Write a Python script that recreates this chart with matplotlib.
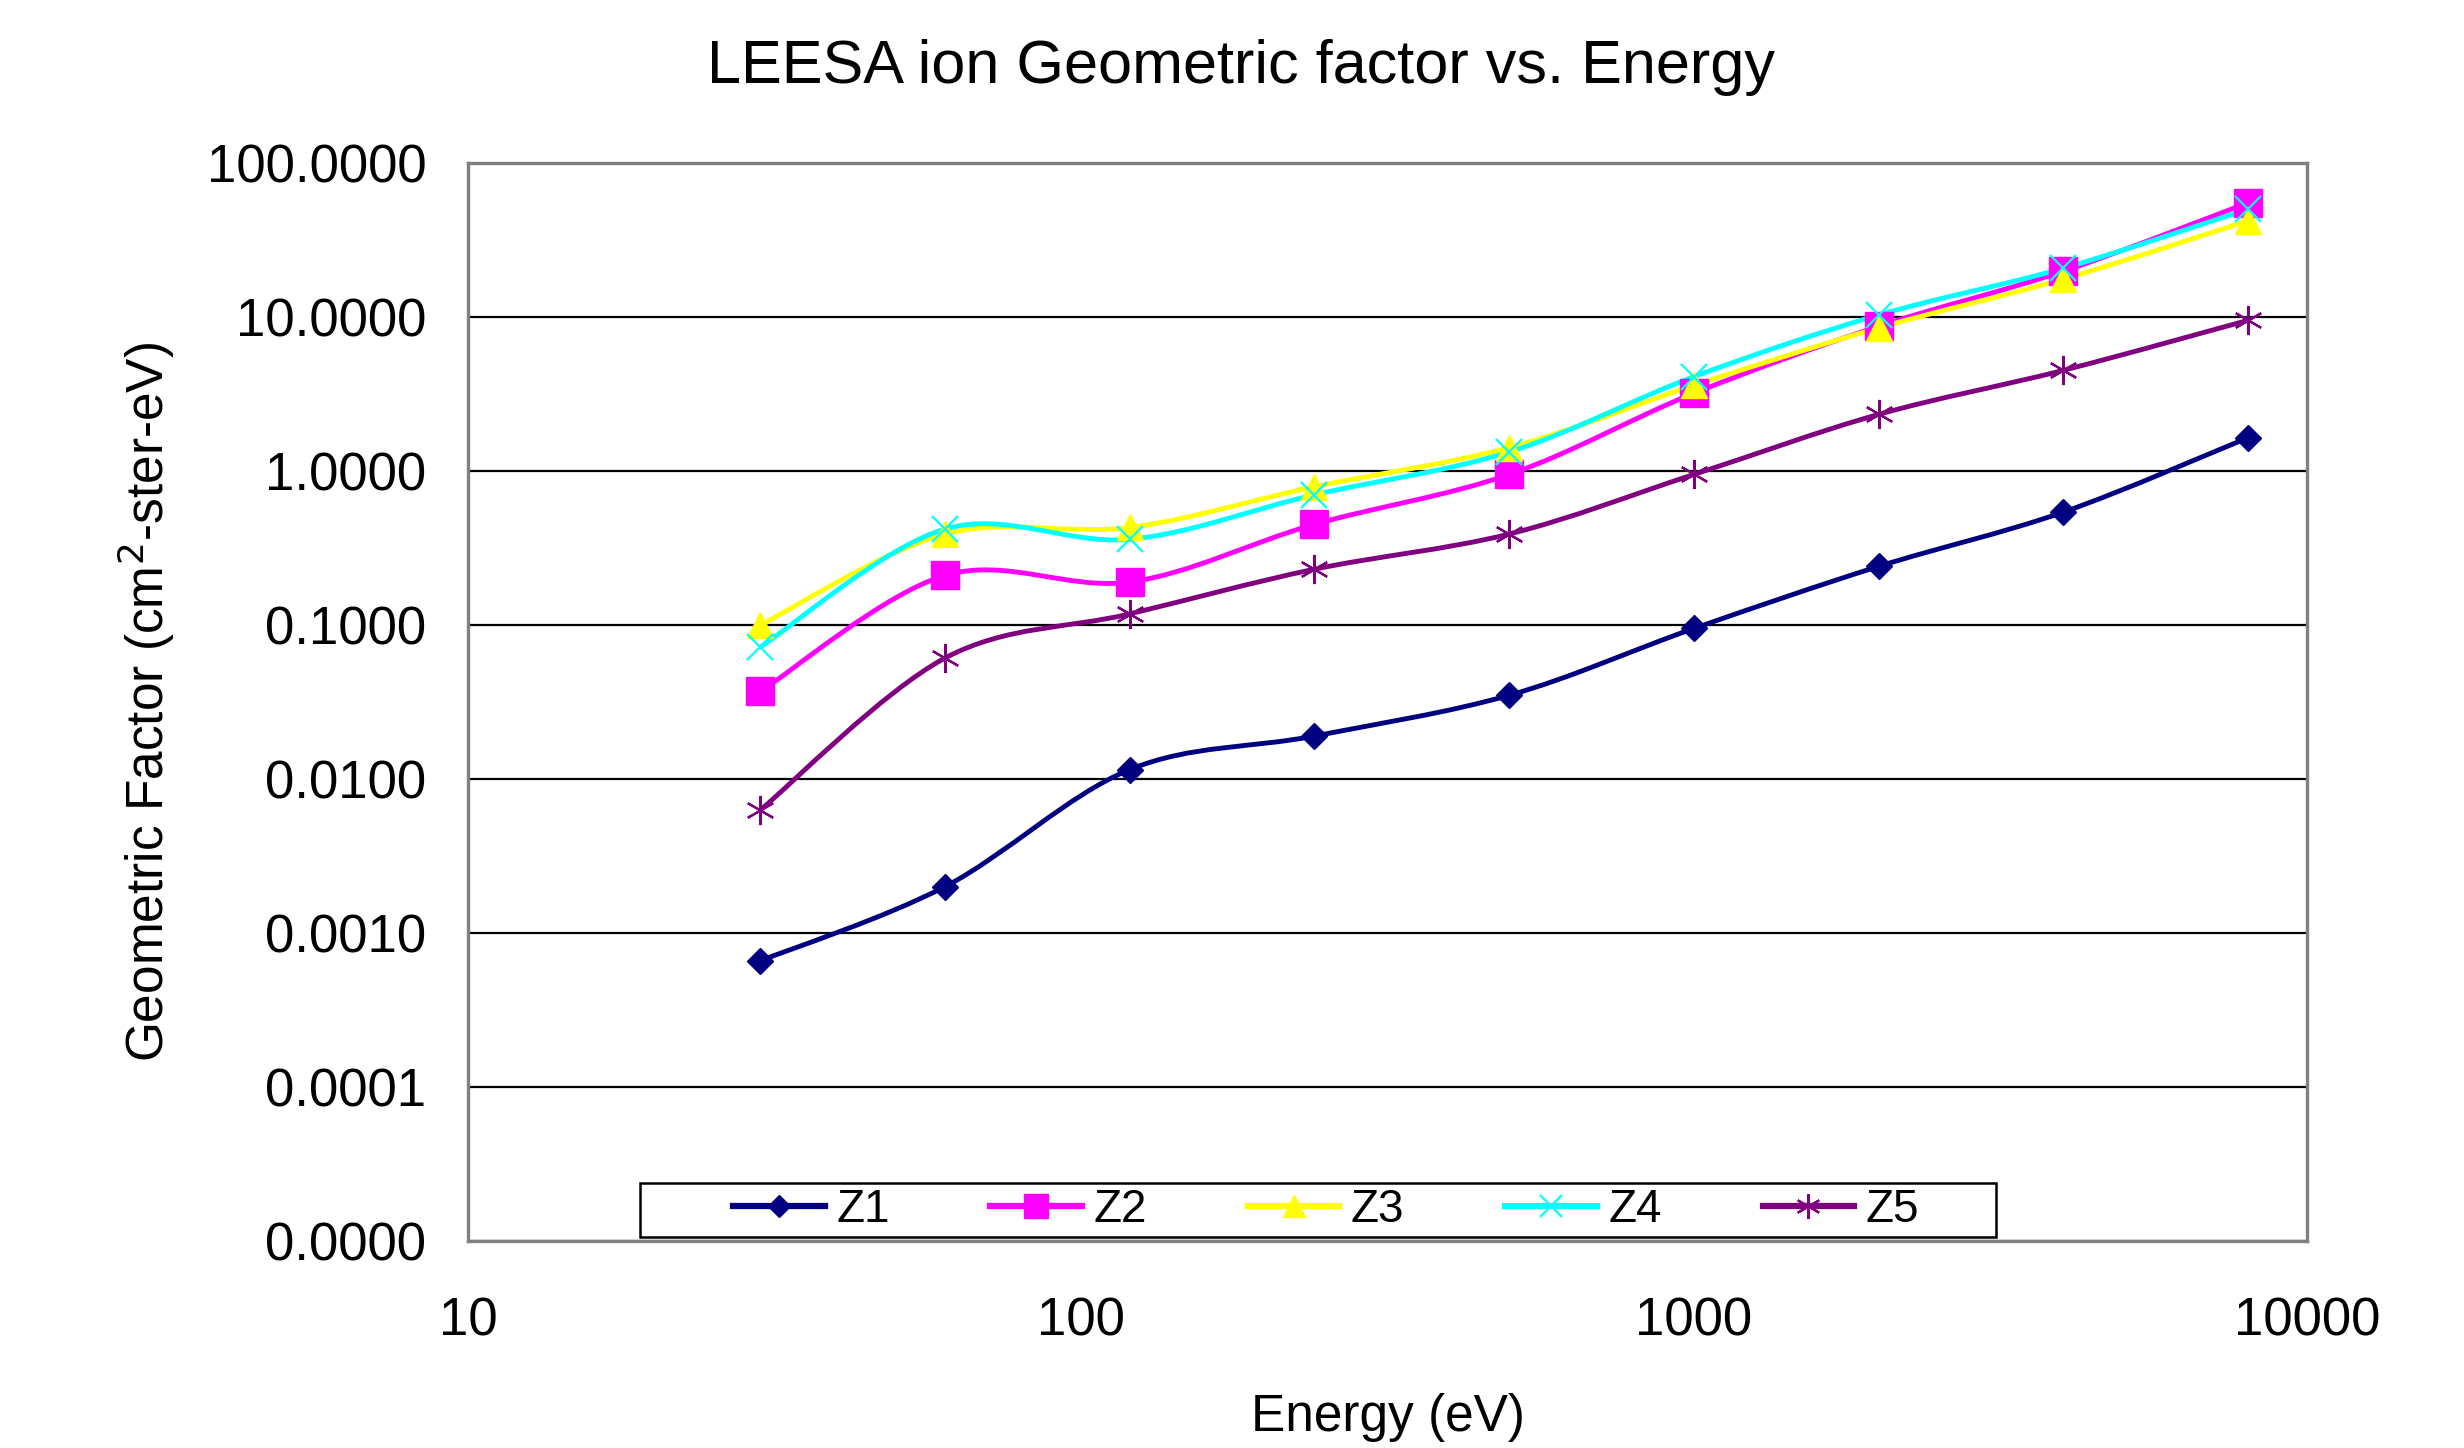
import numpy as np
import matplotlib
matplotlib.use("Agg")
import matplotlib.pyplot as plt
from matplotlib.path import Path
from matplotlib.patches import PathPatch, Rectangle
from matplotlib.lines import Line2D
from matplotlib.ticker import FixedLocator, FuncFormatter, NullLocator

plt.rcParams['font.family'] = ['Liberation Sans', 'DejaVu Sans']

energy = [30, 60, 120, 240, 500, 1000, 2000, 4000, 8000]
z1 = [0.00066, 0.0020, 0.0115, 0.019, 0.035, 0.095, 0.24, 0.54, 1.64]
z2 = [0.037, 0.21, 0.19, 0.45, 0.95, 3.2, 8.7, 19.8, 55.0]
z3 = [0.10, 0.39, 0.43, 0.79, 1.42, 3.6, 8.5, 17.6, 42.0]
z4 = [0.072, 0.42, 0.36, 0.70, 1.33, 4.1, 10.3, 20.7, 50.0]
z5 = [0.0063, 0.061, 0.118, 0.23, 0.39, 0.95, 2.33, 4.5, 9.5]
series_names = ['Z1', 'Z2', 'Z3', 'Z4', 'Z5']
series_values = [z1, z2, z3, z4, z5]
colors = ['#000080', '#FF00FF', '#FFFF00', '#00FFFF', '#800080']
markers = ['D', 's', '^', 'x', (6, 2, 0)]
msizes = [13, 20, 19, 19, 21]
mews = [1, 1, 1, 1.6, 1.6]
ytick_vals = [1e-5, 1e-4, 1e-3, 1e-2, 1e-1, 1, 10, 100]
xtick_vals = [10, 100, 1000, 10000]


def smooth_path(xs, ys):
    P = np.column_stack([np.log10(xs), np.log10(ys)])
    n = len(P)
    verts = [P[0]]
    codes = [Path.MOVETO]
    for i in range(n - 1):
        p0 = P[i - 1] if i > 0 else P[i]
        p1 = P[i]
        p2 = P[i + 1]
        p3 = P[i + 2] if i + 2 < n else P[i + 1]
        c1 = p1 + (p2 - p0) / 6.0
        c2 = p2 - (p3 - p1) / 6.0
        verts += [c1, c2, p2]
        codes += [Path.CURVE4] * 3
    verts = 10 ** np.array(verts)
    return Path(verts, codes)


fig = plt.figure(figsize=(24.64, 14.48), dpi=100)
ax = fig.add_axes([468 / 2464, 1 - 1241 / 1448, (2307 - 468) / 2464, (1241 - 163) / 1448])
ax.set_xscale('log')
ax.set_yscale('log')
ax.set_xlim(10, 10000)
ax.set_ylim(1e-5, 100)

ax.yaxis.set_major_locator(FixedLocator(ytick_vals))
ax.yaxis.set_minor_locator(NullLocator())
ax.xaxis.set_major_locator(FixedLocator(xtick_vals))
ax.xaxis.set_minor_locator(NullLocator())
ax.yaxis.set_major_formatter(FuncFormatter(lambda v, p: f"{v:.4f}"))
ax.xaxis.set_major_formatter(FuncFormatter(lambda v, p: f"{int(round(v))}"))
ax.grid(True, axis='y', color='black', linewidth=1.6, zorder=1)
ax.set_axisbelow(True)
ax.tick_params(axis='both', length=0, labelsize=38)
ax.tick_params(axis='x', pad=40)
ax.tick_params(axis='y', pad=30)
for s in ax.spines.values():
    s.set_color('#808080')
    s.set_linewidth(2.4)

handles = []
for name, vals, c, m, ms, mew in zip(series_names, series_values, colors, markers, msizes, mews):
    patch = PathPatch(smooth_path(energy, vals), facecolor='none', edgecolor=c,
                      linewidth=3.5, zorder=3, transform=ax.transData)
    ax.add_patch(patch)
    ax.plot(energy, vals, linestyle='none', marker=m, markersize=ms, color=c,
            markeredgecolor=c, markeredgewidth=mew, zorder=4)
    handles.append(Line2D([], [], color=c, linewidth=4.5, marker=m, markersize=ms * 0.85,
                          markeredgecolor=c, markeredgewidth=mew, label=name))

# legend box
box_x0 = (640 - 468) / 1839
box_x1 = (1996 - 468) / 1839
box_y0 = (1241 - 1237) / 1078
box_y1 = (1241 - 1183) / 1078
ax.add_patch(Rectangle((box_x0, box_y0), box_x1 - box_x0, box_y1 - box_y0,
                       transform=ax.transAxes, facecolor='white', edgecolor='black',
                       linewidth=1.8, zorder=5))

leg = ax.legend(handles=handles, loc='center', ncol=5,
                bbox_to_anchor=(0.4666, (box_y0 + box_y1) / 2), frameon=False,
                handlelength=2.0, handletextpad=0.25,
                borderaxespad=0, borderpad=0.1, columnspacing=2.2,
                prop={'family': ['Liberation Sans Narrow', 'Liberation Sans'], 'size': 33})
leg.set_zorder(6)

ax.set_xlabel('Energy (eV)', fontsize=37, va='center')
ax.xaxis.set_label_coords(0.5, (1241 - 1417) / 1078)
ax.set_ylabel('Geometric Factor (cm$^{2}$-ster-eV)', fontsize=37, va='center')
ax.yaxis.set_label_coords((146 - 468) / 1839, 0.5)

fig.text(1241 / 2464, 1 - 68 / 1448, 'LEESA ion Geometric factor vs. Energy',
         ha='center', va='center', fontsize=44)

fig.savefig('out.png', dpi=100, facecolor='white')
